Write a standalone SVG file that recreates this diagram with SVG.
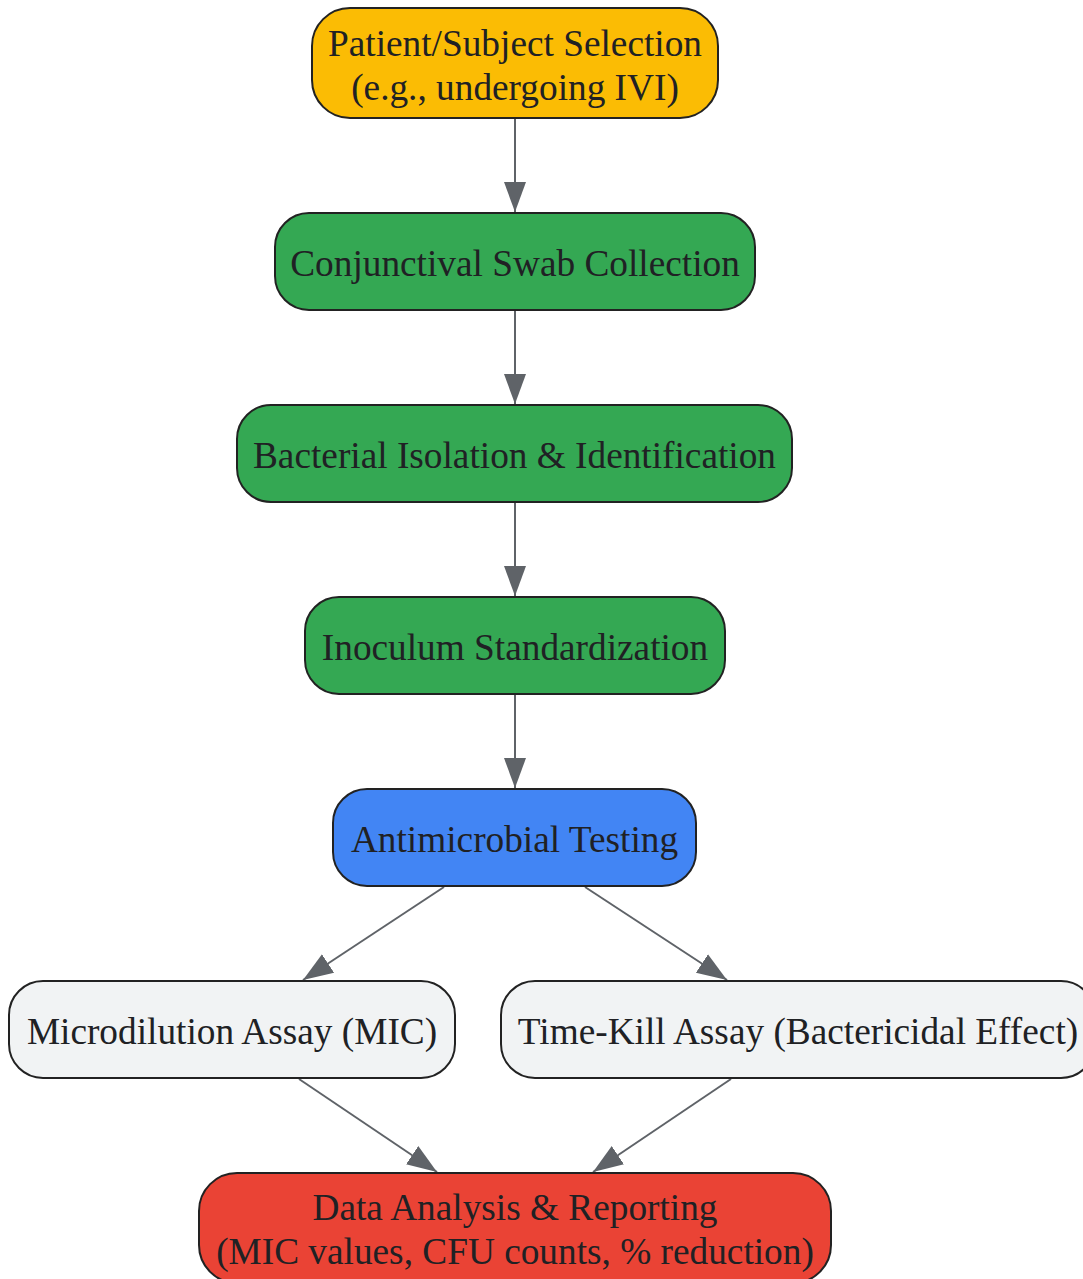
<svg xmlns="http://www.w3.org/2000/svg" width="1083" height="1279" viewBox="0 0 1083 1279">
<style>
.n rect{stroke:#222222;stroke-width:2}
.n text{font-family:"Liberation Serif","Times New Roman",serif;font-size:37.3px;fill:#202124;text-anchor:middle}
.yellow{fill:#FBBC04}.green{fill:#34A853}.blue{fill:#4285F4}.grey{fill:#F1F3F4}.red{fill:#EA4335}
.e line{stroke:#5F6368;stroke-width:2;marker-end:url(#ah)}
</style>
<defs>
<marker id="ah" markerUnits="userSpaceOnUse" markerWidth="32" markerHeight="24" refX="30" refY="12" orient="auto">
<path d="M0,1 L30,12 L0,23 Z" fill="#5F6368"/>
</marker>
</defs>
<rect width="1083" height="1279" fill="#ffffff"/>
<g id="edges" class="e">
<line x1="515" y1="119" x2="515" y2="212"/>
<line x1="515" y1="311" x2="515" y2="404"/>
<line x1="515" y1="503" x2="515" y2="596"/>
<line x1="515" y1="695" x2="515" y2="788"/>
<line x1="444" y1="887" x2="303" y2="980"/>
<line x1="585" y1="887" x2="727" y2="980"/>
<line x1="299" y1="1079" x2="437" y2="1172"/>
<line x1="731" y1="1079" x2="593" y2="1172"/>
</g>
<g id="n1" class="n"><rect class="yellow" x="312" y="8" width="406" height="110" rx="38"/><text x="515" y="56">Patient/Subject Selection</text><text x="515" y="100">(e.g., undergoing IVI)</text></g>
<g id="n2" class="n"><rect class="green" x="275" y="213" width="480" height="97" rx="34"/><text x="515" y="276">Conjunctival Swab Collection</text></g>
<g id="n3" class="n"><rect class="green" x="237" y="405" width="555" height="97" rx="34"/><text x="514.5" y="468">Bacterial Isolation &amp; Identification</text></g>
<g id="n4" class="n"><rect class="green" x="305" y="597" width="420" height="97" rx="34"/><text x="515" y="660">Inoculum Standardization</text></g>
<g id="n5" class="n"><rect class="blue" x="333" y="789" width="363" height="97" rx="34"/><text x="514.5" y="852">Antimicrobial Testing</text></g>
<g id="n6" class="n"><rect class="grey" x="9" y="981" width="446" height="97" rx="34"/><text x="232" y="1044">Microdilution Assay (MIC)</text></g>
<g id="n7" class="n"><rect class="grey" x="501" y="981" width="594" height="97" rx="34"/><text x="798" y="1044">Time-Kill Assay (Bactericidal Effect)</text></g>
<g id="n8" class="n"><rect class="red" x="199" y="1173" width="632" height="110" rx="38"/><text x="515" y="1220">Data Analysis &amp; Reporting</text><text x="515" y="1264">(MIC values, CFU counts, % reduction)</text></g>
</svg>
